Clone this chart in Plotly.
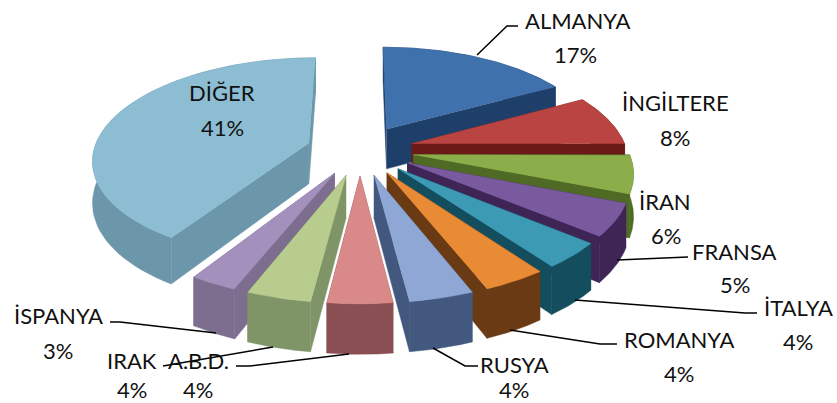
import numpy as np
import plotly.graph_objects as go

names = ["ALMANYA", "İNGİLTERE", "İRAN", "FRANSA", "İTALYA", "ROMANYA", "RUSYA", "A.B.D.", "IRAK", "İSPANYA", "DİĞER"]
values = [17, 8, 6, 5, 4, 4, 4, 4, 4, 3, 41]
top_colors = ["#3f72ad", "#b94441", "#8cae4a", "#7a5a9f", "#3c9ab5", "#e98a35", "#8fa7d4", "#d98a88", "#b8cc8e", "#a490bd", "#8dbdd2"]
wall_colors = ["#1f3f6b", "#6b1a18", "#4f6a25", "#3f2456", "#144e5e", "#6a3a15", "#42587f", "#8a4f52", "#7f9568", "#7d6e90", "#6c97aa"]

# label placement: name centre, name y, percent centre, percent y
label_pos = {
    "ALMANYA": (577, 20, 575, 54), "İNGİLTERE": (675, 102, 675, 137), "İRAN": (665, 201, 666, 235),
    "FRANSA": (734, 251, 735, 284), "İTALYA": (798, 307, 798, 341), "ROMANYA": (679, 339, 679, 373),
    "RUSYA": (514, 364, 514, 389), "A.B.D.": (198, 360, 198, 389), "IRAK": (132, 360, 132, 389),
    "İSPANYA": (58, 315, 58, 350), "DİĞER": (222, 92, 222, 127),
}
leaders = [
    [(477, 55), (507, 26), (518, 26)], [(617, 260), (688, 257)], [(575, 300), (745, 313), (757, 313)],
    [(510, 330), (600, 344), (617, 344)], [(433, 348), (465, 366), (478, 366)],
    [(110, 322), (120, 322), (216, 333)], [(273, 347), (163, 366)],
    [(349, 354), (250, 366), (236, 366)],
]

CX, CY, A, B, H, P, EXPLODE = 360, 150, 215, 100, 41, 0.15, 0.25


def project(u, v, z=0.0):
    u, v = np.asarray(u, float), np.asarray(v, float)
    w = 1 / (1 - P * v)
    return CX + A * u * w, CY + B * v * w + z * H * w


fracs = np.array(values) / sum(values)
ends = np.cumsum(fracs) * 2 * np.pi
starts = ends - fracs * 2 * np.pi


def poly(fig, x, y, color):
    fig.add_trace(go.Scatter(x=list(x), y=list(y), mode="lines", fill="toself", fillcolor=color,
                             line=dict(width=0.5, color=color), hoverinfo="skip", showlegend=False))


fig = go.Figure()
order = sorted(range(len(values)), key=lambda i: -np.cos((starts[i] + ends[i]) / 2))
for i in order:
    mid = (starts[i] + ends[i]) / 2
    ou, ov = EXPLODE * np.sin(mid), -EXPLODE * np.cos(mid)
    th = np.linspace(starts[i], ends[i], 60)
    u = ou + np.sin(th)
    v = ov - np.cos(th)
    # cut faces
    for t in (starts[i], ends[i]):
        eu, ev = ou + np.sin(t), ov - np.cos(t)
        a = project([ou, eu, eu, ou], [ov, ev, ev, ov], np.array([0, 0, 1, 1]))
        poly(fig, a[0], a[1], wall_colors[i])
    # outer wall
    xt, yt = project(u, v, 0)
    xb, yb = project(u, v, 1)
    poly(fig, np.r_[xt, xb[::-1]], np.r_[yt, yb[::-1]], wall_colors[i])
    # top face
    ax, ay = project(ou, ov, 0)
    poly(fig, np.r_[float(ax), xt], np.r_[float(ay), yt], top_colors[i])

font = dict(family="Lato", size=22, color="#111111")
annotations = []
for n, val in zip(names, values):
    x1, y1, x2, y2 = label_pos[n]
    annotations.append(dict(x=x1, y=y1, text=n, showarrow=False, font=font, xanchor="center", yanchor="middle", borderpad=0))
    annotations.append(dict(x=x2, y=y2, text=f"{val}%", showarrow=False, font=font, xanchor="center", yanchor="middle", borderpad=0))

shapes = []
for pts in leaders:
    path = "M " + " L ".join(f"{x},{y}" for x, y in pts)
    shapes.append(dict(type="path", path=path, line=dict(color="#000000", width=1.5)))

fig.update_layout(
    width=837, height=403, margin=dict(l=0, r=0, t=0, b=0),
    paper_bgcolor="white", plot_bgcolor="white", showlegend=False,
    xaxis=dict(range=[0, 837], visible=False, fixedrange=True),
    yaxis=dict(range=[403, 0], visible=False, fixedrange=True),
    annotations=annotations, shapes=shapes,
)
fig.write_html("out.html", config=dict(displayModeBar=False),
               post_script="document.body.style.margin='0';document.body.style.overflow='hidden';")
